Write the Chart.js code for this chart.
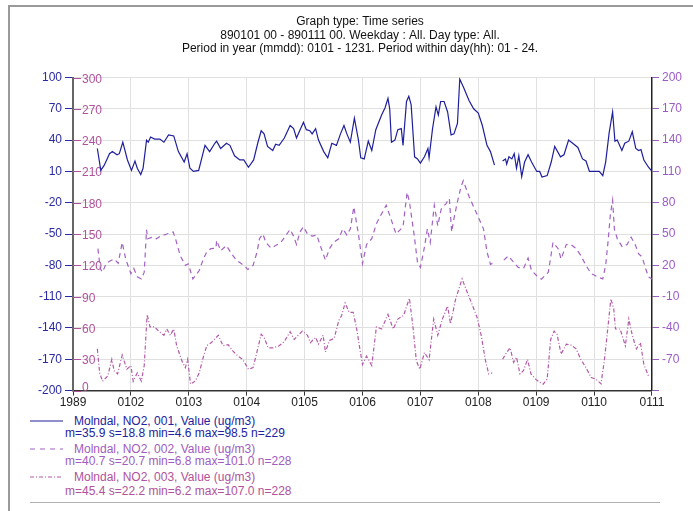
<!DOCTYPE html>
<html>
<head>
<meta charset="utf-8">
<script src="https://cdn.jsdelivr.net/npm/chart.js@4/dist/chart.umd.min.js"></script>
<style>
  body { margin: 0; background: #fff; font-family: "Liberation Sans", Arial, sans-serif; }
  #frame { position: absolute; left: 8px; top: 5px; width: 700px; height: 520px;
           border-left: 2px solid #9a9a9a; border-top: 2px solid #9a9a9a; }
  #wrap { position: absolute; left: 0; top: 0; width: 693px; height: 410px; }
  .lg { position: absolute; font-size: 12px; line-height: 14px; white-space: nowrap; }
  .sw { position: absolute; }
  #rule { position: absolute; left: 30px; top: 502px; width: 630px; border-top: 1px solid #b0b0b0; }
</style>
</head>
<body>
<div id="frame"></div>
<div id="wrap"><canvas id="chart"></canvas></div>

<svg class="sw" style="left:30px;top:418px" width="34" height="6"><line x1="0" y1="3" x2="33" y2="3" stroke="#1f1f9c" stroke-width="1.2"/></svg>
<div class="lg" style="left:74px;top:414px;color:#2323a0">Molndal, NO2, 001, Value (ug/m3)</div>
<div class="lg" style="left:65px;top:426px;color:#2323a0">m=35.9 s=18.8 min=4.6 max=98.5 n=229</div>

<svg class="sw" style="left:30px;top:446px" width="34" height="6"><line x1="0" y1="3" x2="33" y2="3" stroke="#a262c4" stroke-width="1.2" stroke-dasharray="5 5"/></svg>
<div class="lg" style="left:74px;top:442px;color:#a05cc0">Molndal, NO2, 002, Value (ug/m3)</div>
<div class="lg" style="left:65px;top:454px;color:#a05cc0">m=40.7 s=20.7 min=6.8 max=101.0 n=228</div>

<svg class="sw" style="left:30px;top:474px" width="34" height="6"><line x1="0" y1="3" x2="33" y2="3" stroke="#b25aa6" stroke-width="1.2" stroke-dasharray="4 2 1 2"/></svg>
<div class="lg" style="left:74px;top:470px;color:#b0529c">Molndal, NO2, 003, Value (ug/m3)</div>
<div class="lg" style="left:65px;top:484px;color:#b0529c">m=45.4 s=22.2 min=6.2 max=107.0 n=228</div>
<div id="rule"></div>

<script>
// x = position in months from 1 Jan 1989, y = NO2 (ug/m3); null = missing
const monthLabels = ["1989", "0102", "0103", "0104", "0105", "0106", "0107", "0108", "0109", "0110", "0111"];
const innerTicks = [0, 30, 60, 90, 120, 150, 180, 210, 240, 270, 300];

const site001 = [
  [0.42, 32], [0.48, 11], [0.54, 16], [0.63, 27], [0.68, 29], [0.76, 26], [0.80, 27], [0.86, 38],
  [0.94, 21], [1.01, 11], [1.07, 20], [1.11, 13], [1.17, 7], [1.21, 13], [1.27, 40], [1.30, 38],
  [1.34, 43], [1.41, 41], [1.50, 41], [1.57, 38], [1.65, 45], [1.74, 44], [1.82, 29], [1.92, 19],
  [1.97, 27], [2.02, 13], [2.08, 10], [2.17, 11], [2.28, 35], [2.36, 29], [2.45, 37], [2.48, 39],
  [2.55, 32], [2.65, 37], [2.71, 35], [2.79, 25], [2.88, 21], [2.95, 21], [3.03, 14], [3.12, 21],
  [3.19, 37], [3.25, 49], [3.30, 46], [3.36, 34], [3.45, 30], [3.50, 36], [3.56, 35], [3.65, 42],
  [3.75, 54], [3.81, 51], [3.86, 42], [3.93, 51], [3.98, 57], [4.03, 50], [4.09, 49], [4.13, 46],
  [4.19, 51], [4.24, 40], [4.33, 29], [4.40, 23], [4.47, 37], [4.55, 35], [4.62, 46], [4.68, 54],
  [4.73, 46], [4.79, 38], [4.86, 61], [4.93, 40], [4.97, 23], [5.03, 22], [5.10, 39], [5.16, 30],
  [5.23, 50], [5.33, 64], [5.39, 71], [5.44, 80], [5.47, 70], [5.50, 38], [5.56, 40], [5.61, 50],
  [5.67, 51], [5.70, 35], [5.76, 77], [5.80, 82], [5.84, 74], [5.90, 24], [5.95, 22], [6.00, 18],
  [6.07, 24], [6.13, 32], [6.15, 23], [6.21, 51], [6.27, 72], [6.31, 64], [6.35, 77], [6.41, 77],
  [6.47, 67], [6.53, 45], [6.58, 46], [6.64, 56], [6.68, 98.5], [6.75, 90], [6.84, 78], [6.92, 70],
  [7.00, 66], [7.07, 54], [7.15, 35], [7.21, 29], [7.28, 16], [7.35, null], [7.42, 20], [7.47, 22],
  [7.49, 17], [7.53, 24], [7.58, 22], [7.62, 27], [7.66, 13], [7.70, 25], [7.75, 5], [7.80, 19],
  [7.86, 26], [7.92, 19], [8.01, 10], [8.06, 10], [8.10, 4.6], [8.19, 6], [8.26, 19], [8.32, 34],
  [8.42, 24], [8.48, 26], [8.56, 40], [8.63, 37], [8.72, 33], [8.80, 22], [8.86, 20], [8.92, 10],
  [9.00, 10], [9.09, 10], [9.15, 6], [9.20, 19], [9.26, 47], [9.32, 67], [9.36, 39], [9.40, 40],
  [9.48, 30], [9.53, 37], [9.60, 39], [9.66, 48], [9.72, 32], [9.77, 30], [9.81, 31], [9.86, 21],
  [9.94, 14], [10.0, 10]
];

const site002 = [
  [0.43, 36], [0.47, 17], [0.51, 13.5], [0.57, 21.5], [0.63, 24], [0.71, 26], [0.78, 22], [0.85, 42],
  [0.91, 26], [1.00, 12], [1.05, 17], [1.11, 9], [1.18, 7], [1.23, 13.5], [1.27, 54], [1.29, 45.5],
  [1.37, 47], [1.44, 45.5], [1.51, 48], [1.62, 50], [1.73, 52], [1.77, 45.5], [1.85, 29.5], [1.94, 20],
  [1.99, 21.5], [2.07, 7], [2.18, 15], [2.25, 26], [2.31, 33], [2.38, 36], [2.47, 36.5], [2.48, 44],
  [2.55, 34], [2.65, 39], [2.74, 31], [2.82, 25], [2.91, 21.5], [2.97, 19], [3.02, 16], [3.11, 20],
  [3.18, 33], [3.22, 45.5], [3.28, 50], [3.33, 42], [3.42, 36.5], [3.50, 39], [3.59, 42], [3.68, 49],
  [3.75, 54.5], [3.81, 48], [3.86, 40], [3.92, 52], [3.98, 57], [4.05, 50], [4.13, 48], [4.21, 49],
  [4.27, 39], [4.36, 25], [4.43, 36], [4.50, 42], [4.59, 45.5], [4.66, 55], [4.73, 49], [4.79, 55],
  [4.85, 76], [4.93, 50], [5.00, 21.5], [5.07, 40], [5.16, 45.5], [5.24, 60], [5.33, 69.5], [5.41, 77.6],
  [5.58, 50], [5.70, 57], [5.77, 90], [5.81, 81], [5.89, 50], [5.95, 23], [6.00, 18], [6.07, 37.5],
  [6.12, 55], [6.17, 42], [6.24, 77.6], [6.30, 58], [6.36, 74], [6.44, 79], [6.50, 84], [6.54, 52],
  [6.58, 65], [6.64, 81], [6.70, 95], [6.74, 101], [6.84, 86], [6.92, 76], [7.01, 65], [7.09, 55],
  [7.15, 33], [7.21, 21], [7.25, 22], [7.33, null], [7.44, 25], [7.52, 29], [7.61, 23], [7.69, 18],
  [7.78, 17], [7.86, 27], [7.92, 15], [8.01, 10], [8.09, 6.8], [8.21, 13.5], [8.26, 31], [8.29, 42],
  [8.38, 36], [8.43, 26], [8.52, 40], [8.60, 40], [8.69, 36], [8.77, 29.5], [8.86, 20], [8.95, 12],
  [9.06, 9], [9.15, 7], [9.20, 20], [9.24, 42], [9.28, 68], [9.32, 82.5], [9.35, 55], [9.40, 45.5],
  [9.49, 37.5], [9.57, 40], [9.64, 47], [9.71, 40], [9.77, 31], [9.83, 28], [9.89, 17], [9.94, 9],
  [10.0, 7]
];

const site003 = [
  [0.42, 40], [0.46, 17], [0.51, 9], [0.60, 14], [0.67, 30], [0.71, 19], [0.77, 16], [0.85, 34],
  [0.93, 20.5], [1.00, 24], [1.04, 9], [1.11, 17], [1.18, 9], [1.23, 24], [1.28, 73], [1.33, 61],
  [1.41, 61], [1.48, 57], [1.57, 53], [1.62, 59], [1.68, 53], [1.74, 59], [1.79, 43], [1.88, 28.5],
  [1.94, 22], [1.98, 30], [2.03, 6.2], [2.11, 9], [2.18, 17], [2.25, 32], [2.31, 43], [2.39, 46],
  [2.51, 53], [2.59, 43], [2.68, 44], [2.76, 38], [2.85, 33], [2.93, 30], [3.03, 20.5], [3.11, 22],
  [3.19, 40], [3.25, 54], [3.30, 51], [3.37, 41], [3.46, 41], [3.56, 43], [3.65, 47], [3.75, 56.5],
  [3.82, 49], [3.89, 53], [3.96, 57], [4.05, 53], [4.10, 46], [4.19, 51], [4.24, 44.5], [4.32, 53],
  [4.36, 37], [4.43, 48], [4.51, 50], [4.59, 67], [4.64, 72], [4.70, 84], [4.77, 75], [4.84, 75],
  [4.90, 59], [4.96, 38], [5.00, 25], [5.07, 33], [5.16, 24], [5.24, 61], [5.33, 59], [5.44, 73],
  [5.53, 59], [5.61, 68.5], [5.71, 72], [5.81, 88.5], [5.87, 62], [5.93, 28.5], [5.99, 20.5], [6.07, 36.5],
  [6.15, 29.5], [6.23, 68.5], [6.30, 53], [6.38, 68.5], [6.47, 81], [6.52, 64], [6.61, 88], [6.72, 107],
  [6.81, 94], [6.89, 83], [6.98, 70], [7.05, 53], [7.12, 30], [7.18, 16], [7.24, 17], [7.33, null],
  [7.42, 30], [7.49, 36.5], [7.55, 41], [7.61, 27], [7.66, 32], [7.72, 16], [7.78, 19], [7.85, 30],
  [7.91, 16], [7.99, 11], [8.06, 8], [8.12, 6.2], [8.19, 11], [8.25, 49], [8.31, 57], [8.36, 54],
  [8.43, 35], [8.52, 44.5], [8.60, 43.6], [8.69, 40], [8.77, 30], [8.86, 22], [8.95, 12.5], [9.03, 11],
  [9.12, 6.5], [9.18, 30], [9.23, 56], [9.29, 88], [9.34, 78], [9.37, 59], [9.45, 59], [9.54, 43],
  [9.60, 68.5], [9.66, 53], [9.73, 40], [9.80, 46], [9.86, 25], [9.94, 14]
];

const FONT = "'Liberation Sans', Arial, sans-serif";

function toPoints(pairs) {
  return pairs.map((p) => ({ x: p[0], y: p[1] }));
}

// labels of the inner left axis sit inside the plot area
const innerAxisPlugin = {
  id: "innerAxis",
  beforeDatasetsDraw(chart) {
    const scale = chart.scales.yIn;
    const left = chart.chartArea.left;
    const ctx = chart.ctx;
    ctx.save();
    ctx.strokeStyle = "#b0529c";
    ctx.fillStyle = "#b0529c";
    ctx.lineWidth = 1;
    ctx.font = "12px " + FONT;
    ctx.textAlign = "left";
    ctx.textBaseline = "middle";
    innerTicks.forEach((v) => {
      const y = Math.round(scale.getPixelForValue(v)) + 0.5;
      ctx.beginPath();
      ctx.moveTo(left, y);
      ctx.lineTo(left + 8, y);
      ctx.stroke();
      ctx.fillText(String(v), left + 9, v === 0 ? y - 4 : y + 1);
    });
    ctx.restore();
  },
};

new Chart(document.getElementById("chart").getContext("2d"), {
  type: "line",
  data: {
    datasets: [
      {
        label: "Molndal, NO2, 001, Value (ug/m3)",
        data: toPoints(site001),
        yAxisID: "yL",
        borderColor: "#1f1f9c",
        borderWidth: 1.2,
      },
      {
        label: "Molndal, NO2, 002, Value (ug/m3)",
        data: toPoints(site002),
        yAxisID: "yR",
        borderColor: "#a262c4",
        borderWidth: 1.2,
        borderDash: [5, 4],
      },
      {
        label: "Molndal, NO2, 003, Value (ug/m3)",
        data: toPoints(site003),
        yAxisID: "yIn",
        borderColor: "#b25aa6",
        borderWidth: 1.2,
        borderDash: [4, 2, 1, 2],
      },
    ],
  },
  options: {
    responsive: true,
    maintainAspectRatio: false,
    animation: false,
    spanGaps: false,
    elements: { point: { radius: 0 }, line: { tension: 0 } },
    layout: { padding: { left: 35, right: 8, top: 0, bottom: 0 } },
    plugins: {
      legend: { display: false },
      tooltip: { enabled: false },
      title: {
        display: true,
        text: [
          "Graph type: Time series",
          "890101 00 - 890111 00. Weekday : All. Day type: All.",
          "Period in year (mmdd): 0101 - 1231. Period within day(hh): 01 - 24.",
        ],
        color: "#111",
        font: { family: FONT, size: 12, weight: "normal", lineHeight: 1.125 },
        padding: { top: 15, bottom: 22 },
      },
    },
    scales: {
      x: {
        type: "linear",
        min: 0,
        max: 10,
        ticks: {
          stepSize: 1,
          padding: 0,
          color: "#222",
          font: { family: FONT, size: 12 },
          maxRotation: 0,
          callback: (v) => monthLabels[v],
        },
        grid: { color: "#e0e0e0", tickColor: "#333", tickLength: 5 },
        border: { color: "#333", width: 1.5 },
      },
      yL: {
        position: "left",
        min: -200,
        max: 100,
        ticks: { stepSize: 30, padding: 3, color: "#2a2aa4", font: { family: FONT, size: 12 } },
        grid: { color: "#e0e0e0", tickColor: "#2a2aa4", tickLength: 8 },
        border: { color: "#666", width: 2 },
      },
      yIn: {
        display: false,
        min: 0,
        max: 300,
      },
      yR: {
        position: "right",
        min: -100,
        max: 200,
        ticks: {
          stepSize: 30,
          padding: 3,
          color: "#9c5cc6",
          font: { family: FONT, size: 12 },
          callback: (v) => (v === -100 ? "" : v),
        },
        grid: { drawOnChartArea: false, tickColor: "#9c5cc6", tickLength: 7 },
        border: { color: "#222", width: 1.5 },
      },
    },
  },
  plugins: [innerAxisPlugin],
});
</script>
</body>
</html>
